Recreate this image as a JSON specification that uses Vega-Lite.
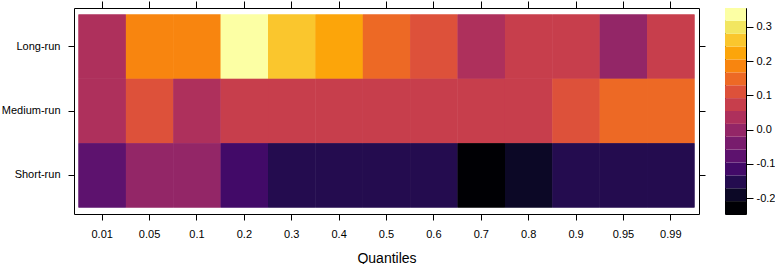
{
  "$schema": "https://vega.github.io/schema/vega-lite/v6.json",
  "autosize": {"type": "pad"},
  "padding": 0,
  "config": {
    "font": "Liberation Sans",
    "view": {"stroke": "#000000", "strokeWidth": 1},
    "axis": {
      "domain": false,
      "grid": false,
      "tickColor": "#000000",
      "tickSize": 6,
      "labelFont": "Liberation Sans",
      "labelFontSize": 11,
      "labelColor": "#000000",
      "titleFont": "Liberation Sans",
      "titleFontWeight": "normal",
      "titleColor": "#000000"
    }
  },
  "datasets": {
    "cells": [
      {"horizon": "Long-run", "quantile": "0.01", "value": 0.036},
      {"horizon": "Long-run", "quantile": "0.05", "value": 0.186},
      {"horizon": "Long-run", "quantile": "0.1", "value": 0.188},
      {"horizon": "Long-run", "quantile": "0.2", "value": 0.355},
      {"horizon": "Long-run", "quantile": "0.3", "value": 0.261},
      {"horizon": "Long-run", "quantile": "0.4", "value": 0.224},
      {"horizon": "Long-run", "quantile": "0.5", "value": 0.148},
      {"horizon": "Long-run", "quantile": "0.6", "value": 0.111},
      {"horizon": "Long-run", "quantile": "0.7", "value": 0.035},
      {"horizon": "Long-run", "quantile": "0.8", "value": 0.073},
      {"horizon": "Long-run", "quantile": "0.9", "value": 0.075},
      {"horizon": "Long-run", "quantile": "0.95", "value": -0.002},
      {"horizon": "Long-run", "quantile": "0.99", "value": 0.071},
      {"horizon": "Medium-run", "quantile": "0.01", "value": 0.038},
      {"horizon": "Medium-run", "quantile": "0.05", "value": 0.110},
      {"horizon": "Medium-run", "quantile": "0.1", "value": 0.035},
      {"horizon": "Medium-run", "quantile": "0.2", "value": 0.072},
      {"horizon": "Medium-run", "quantile": "0.3", "value": 0.070},
      {"horizon": "Medium-run", "quantile": "0.4", "value": 0.071},
      {"horizon": "Medium-run", "quantile": "0.5", "value": 0.069},
      {"horizon": "Medium-run", "quantile": "0.6", "value": 0.072},
      {"horizon": "Medium-run", "quantile": "0.7", "value": 0.070},
      {"horizon": "Medium-run", "quantile": "0.8", "value": 0.073},
      {"horizon": "Medium-run", "quantile": "0.9", "value": 0.112},
      {"horizon": "Medium-run", "quantile": "0.95", "value": 0.150},
      {"horizon": "Medium-run", "quantile": "0.99", "value": 0.147},
      {"horizon": "Short-run", "quantile": "0.01", "value": -0.077},
      {"horizon": "Short-run", "quantile": "0.05", "value": -0.002},
      {"horizon": "Short-run", "quantile": "0.1", "value": -0.004},
      {"horizon": "Short-run", "quantile": "0.2", "value": -0.115},
      {"horizon": "Short-run", "quantile": "0.3", "value": -0.152},
      {"horizon": "Short-run", "quantile": "0.4", "value": -0.153},
      {"horizon": "Short-run", "quantile": "0.5", "value": -0.151},
      {"horizon": "Short-run", "quantile": "0.6", "value": -0.150},
      {"horizon": "Short-run", "quantile": "0.7", "value": -0.246},
      {"horizon": "Short-run", "quantile": "0.8", "value": -0.190},
      {"horizon": "Short-run", "quantile": "0.9", "value": -0.152},
      {"horizon": "Short-run", "quantile": "0.95", "value": -0.150},
      {"horizon": "Short-run", "quantile": "0.99", "value": -0.151}
    ],
    "legendBins": [
      {"lo": -0.246, "hi": -0.2084, "mid": -0.2272},
      {"lo": -0.2084, "hi": -0.1709, "mid": -0.1896},
      {"lo": -0.1709, "hi": -0.1333, "mid": -0.1521},
      {"lo": -0.1333, "hi": -0.0958, "mid": -0.1145},
      {"lo": -0.0958, "hi": -0.0582, "mid": -0.0769},
      {"lo": -0.0582, "hi": -0.0206, "mid": -0.0394},
      {"lo": -0.0206, "hi": 0.0169, "mid": -0.0018},
      {"lo": 0.0169, "hi": 0.0545, "mid": 0.0358},
      {"lo": 0.0545, "hi": 0.0921, "mid": 0.0733},
      {"lo": 0.0921, "hi": 0.1296, "mid": 0.1109},
      {"lo": 0.1296, "hi": 0.1672, "mid": 0.1485},
      {"lo": 0.1672, "hi": 0.2048, "mid": 0.1860},
      {"lo": 0.2048, "hi": 0.2423, "mid": 0.2236},
      {"lo": 0.2423, "hi": 0.2799, "mid": 0.2611},
      {"lo": 0.2799, "hi": 0.3174, "mid": 0.2987},
      {"lo": 0.3174, "hi": 0.355, "mid": 0.3362}
    ]
  },
  "hconcat": [
    {
      "width": 625,
      "height": 206,
      "data": {"name": "cells"},
      "layer": [
        {
          "mark": {"type": "rect"},
          "encoding": {
            "x": {
              "field": "quantile",
              "type": "nominal",
              "sort": ["0.01", "0.05", "0.1", "0.2", "0.3", "0.4", "0.5", "0.6", "0.7", "0.8", "0.9", "0.95", "0.99"],
              "scale": {"paddingInner": 0, "paddingOuter": 0.095},
              "axis": {"orient": "bottom", "title": "Quantiles", "titleFontSize": 14, "titlePadding": 12, "labelPadding": 8, "labelAngle": 0}
            },
            "y": {
              "field": "horizon",
              "type": "nominal",
              "sort": ["Long-run", "Medium-run", "Short-run"],
              "scale": {"paddingInner": 0, "paddingOuter": 0.1},
              "axis": {"orient": "left", "title": null, "labelPadding": 8}
            },
            "color": {
              "field": "value",
              "type": "quantitative",
              "scale": {
                "type": "quantize",
                "domain": [-0.246, 0.355],
                "nice": false,
                "zero": false,
                "range": ["#000004", "#0C0826", "#240C4F", "#420A68", "#5D126E", "#781C6D", "#932667", "#AE305C", "#C73E4C", "#DD513A", "#ED6925", "#F8850F", "#FCA50A", "#FAC62D", "#F2E661", "#FCFFA4"]
              },
              "legend": null
            }
          }
        },
        {
          "mark": {"type": "rect"},
          "encoding": {
            "x": {
              "field": "quantile",
              "type": "nominal",
              "sort": ["0.01", "0.05", "0.1", "0.2", "0.3", "0.4", "0.5", "0.6", "0.7", "0.8", "0.9", "0.95", "0.99"],
              "axis": {"orient": "top", "title": null, "labels": false, "tickSize": 7}
            },
            "y": {
              "field": "horizon",
              "type": "nominal",
              "sort": ["Long-run", "Medium-run", "Short-run"],
              "axis": {"orient": "right", "title": null, "labels": false, "tickSize": 6}
            },
            "color": {
              "field": "value",
              "type": "quantitative",
              "scale": {
                "type": "quantize",
                "domain": [-0.246, 0.355],
                "nice": false,
                "zero": false,
                "range": ["#000004", "#0C0826", "#240C4F", "#420A68", "#5D126E", "#781C6D", "#932667", "#AE305C", "#C73E4C", "#DD513A", "#ED6925", "#F8850F", "#FCA50A", "#FAC62D", "#F2E661", "#FCFFA4"]
              },
              "legend": null
            }
          }
        }
      ],
      "resolve": {"axis": {"x": "independent", "y": "independent"}}
    },
    {
      "width": 21,
      "height": 206,
      "data": {"name": "legendBins"},
      "mark": {"type": "rect"},
      "encoding": {
        "y": {
          "field": "lo",
          "type": "quantitative",
          "scale": {"domain": [-0.246, 0.355], "nice": false, "zero": false},
          "axis": {
            "orient": "right",
            "title": null,
            "values": [-0.2, -0.1, 0, 0.1, 0.2, 0.3],
            "tickSize": 7,
            "labelPadding": 3,
            "labelExpr": "datum.value < 0 ? '-' + format(-datum.value, '.1f') : format(datum.value, '.1f')"
          }
        },
        "y2": {"field": "hi"},
        "color": {
          "field": "mid",
          "type": "quantitative",
          "scale": {
            "type": "quantize",
            "domain": [-0.246, 0.355],
            "nice": false,
            "zero": false,
            "range": ["#000004", "#0C0826", "#240C4F", "#420A68", "#5D126E", "#781C6D", "#932667", "#AE305C", "#C73E4C", "#DD513A", "#ED6925", "#F8850F", "#FCA50A", "#FAC62D", "#F2E661", "#FCFFA4"]
          },
          "legend": null
        }
      }
    }
  ],
  "spacing": 26,
  "bounds": "flush"
}
